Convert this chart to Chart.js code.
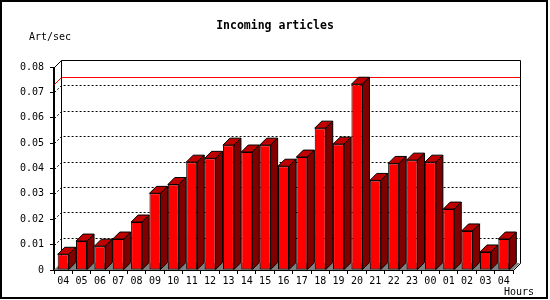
<!DOCTYPE html>
<html>
<head>
<meta charset="utf-8">
<script src="https://cdn.jsdelivr.net/npm/chart.js@4.4.1/dist/chart.umd.min.js"></script>
<style>
  html, body { margin: 0; padding: 0; background: #ffffff; }
  #c { display: block; }
</style>
</head>
<body>
<canvas id="c" width="550" height="300"></canvas>
<script>
// ---- Data ----
const hours = ['04','05','06','07','08','09','10','11','12','13','14','15','16','17','18','19','20','21','22','23','00','01','02','03','04'];
const artPerSec = [0.0062,0.0114,0.0094,0.0122,0.0189,0.0302,0.0337,0.0425,0.0440,0.0492,0.0465,0.0492,0.0409,0.0445,0.0559,0.0496,0.0732,0.0353,0.0420,0.0433,0.0425,0.0240,0.0154,0.0071,0.0122];
const yTickValues = [0,0.01,0.02,0.03,0.04,0.05,0.06,0.07,0.08];
const chartTitle = 'Incoming articles';
const yUnit = 'Art/sec';
const xUnit = 'Hours';

const DEPTH = 7;
const MONO = '"DejaVu Sans Mono", "Liberation Mono", monospace';

function poly(ctx, pts) {
  ctx.beginPath();
  ctx.moveTo(pts[0][0], pts[0][1]);
  for (let i = 1; i < pts.length; i++) ctx.lineTo(pts[i][0], pts[i][1]);
  ctx.closePath();
}

const threeD = {
  id: 'threeD',
  beforeDraw(chart) {
    const ctx = chart.ctx;
    ctx.save();
    ctx.fillStyle = '#ffffff';
    ctx.fillRect(0, 0, chart.width, chart.height);
    ctx.restore();
  },
  beforeDatasetsDraw(chart) {
    const ctx = chart.ctx;
    const { left, right, top, bottom } = chart.chartArea;
    const y = chart.scales.y;
    const L = Math.round(left) + 0.5, R = Math.round(right) + 0.5;
    const T = Math.round(top) + 0.5, B = Math.round(bottom) + 0.5;
    ctx.save();
    // floor
    ctx.fillStyle = '#808080';
    poly(ctx, [[left, bottom], [right, bottom], [right + DEPTH, bottom - DEPTH], [left + DEPTH, bottom - DEPTH]]);
    ctx.fill();
    // dotted grid lines on the back wall
    ctx.strokeStyle = '#000000';
    ctx.lineWidth = 1;
    ctx.setLineDash([2, 2]);
    yTickValues.forEach(v => {
      if (v <= y.min || v >= y.max) return;
      const py = Math.round(y.getPixelForValue(v)) + 0.5;
      ctx.beginPath();
      ctx.moveTo(L, py);
      ctx.lineTo(L + DEPTH, py - DEPTH);
      ctx.lineTo(R + DEPTH, py - DEPTH);
      ctx.stroke();
    });
    ctx.setLineDash([]);
    // max value line (red)
    const maxV = Math.max(...artPerSec);
    const pm = Math.round(y.getPixelForValue(maxV)) + 0.5;
    ctx.strokeStyle = '#ff0000';
    ctx.beginPath();
    ctx.moveTo(L, pm);
    ctx.lineTo(L + DEPTH, pm - DEPTH);
    ctx.lineTo(R + DEPTH, pm - DEPTH);
    ctx.stroke();
    // back wall frame
    ctx.strokeStyle = '#000000';
    ctx.beginPath();
    ctx.moveTo(L, T);
    ctx.lineTo(L + DEPTH, T - DEPTH);
    ctx.lineTo(R + DEPTH, T - DEPTH);
    ctx.lineTo(R + DEPTH, B - DEPTH);
    ctx.lineTo(R, B);
    ctx.moveTo(L + DEPTH, T - DEPTH);
    ctx.lineTo(L + DEPTH, B - DEPTH);
    ctx.stroke();
    ctx.restore();
  },
  afterDatasetsDraw(chart) {
    const ctx = chart.ctx;
    const meta = chart.getDatasetMeta(0);
    ctx.save();
    ctx.lineWidth = 1;
    ctx.strokeStyle = '#000000';
    meta.data.forEach(bar => {
      const { x, y, base, width } = bar.getProps(['x', 'y', 'base', 'width'], true);
      const l = x - width / 2, r = x + width / 2;
      // top face
      ctx.fillStyle = '#c00000';
      poly(ctx, [[l, y], [l + DEPTH, y - DEPTH], [r + DEPTH, y - DEPTH], [r, y]]);
      ctx.fill();
      ctx.stroke();
      // side face
      ctx.fillStyle = '#800000';
      poly(ctx, [[r, y], [r + DEPTH, y - DEPTH], [r + DEPTH, base - DEPTH], [r, base]]);
      ctx.fill();
      ctx.stroke();
    });
    // front axes redrawn on top
    const { left, right, bottom, top } = chart.chartArea;
    ctx.beginPath();
    ctx.moveTo(Math.round(left) - 0.5, top);
    ctx.lineTo(Math.round(left) - 0.5, bottom + 0.5);
    ctx.lineTo(right, bottom + 0.5);
    ctx.stroke();
    ctx.restore();
  },
  afterDraw(chart) {
    const ctx = chart.ctx;
    ctx.save();
    ctx.fillStyle = '#000000';
    ctx.font = '10px ' + MONO;
    ctx.textBaseline = 'middle';
    ctx.textAlign = 'left';
    ctx.fillText(yUnit, 29, 37.5);
    ctx.fillText(xUnit, 504, 292.5);
    // outer frame
    ctx.strokeStyle = '#000000';
    ctx.lineWidth = 2;
    ctx.strokeRect(1, 1, 546, 297);
    ctx.restore();
  }
};

new Chart(document.getElementById('c'), {
  type: 'bar',
  data: {
    labels: hours,
    datasets: [{
      data: artPerSec,
      backgroundColor: '#ff0000',
      borderColor: '#000000',
      borderWidth: 1,
      borderSkipped: false,
      barPercentage: 0.6,
      categoryPercentage: 1.0,
      inflateAmount: 0,
      yAxisID: 'y'
    }]
  },
  options: {
    responsive: false,
    animation: false,
    devicePixelRatio: 1,
    layout: { padding: 0 },
    plugins: {
      legend: { display: false },
      tooltip: { enabled: false },
      title: {
        display: true,
        text: chartTitle,
        color: '#000000',
        font: { family: MONO, size: 11.5, weight: 'bold', lineHeight: 1.2 },
        padding: { top: 19.6, bottom: 33.6 }
      }
    },
    scales: {
      x: {
        type: 'category',
        offset: true,
        grid: { display: true, offset: true, drawOnChartArea: false, drawTicks: true, tickLength: 4, color: '#000000' },
        border: { display: true, color: '#000000' },
        ticks: { color: '#000000', font: { family: MONO, size: 10 }, padding: 1, maxRotation: 0, autoSkip: false },
        afterFit(scale) { scale.height = 30; }
      },
      y: {
        type: 'linear',
        position: 'left',
        min: 0,
        max: 0.08,
        afterBuildTicks(scale) { scale.ticks = yTickValues.map(v => ({ value: v })); },
        grid: { display: true, drawOnChartArea: false, drawTicks: true, tickLength: 4, color: '#000000' },
        border: { display: true, color: '#000000' },
        ticks: {
          color: '#000000',
          font: { family: MONO, size: 10 },
          padding: 6,
          callback: v => (v === 0 ? '0' : v.toFixed(2))
        },
        afterFit(scale) { scale.width = 54; }
      },
      yRight: {
        type: 'linear',
        position: 'right',
        display: true,
        grid: { display: false },
        border: { display: false },
        ticks: { display: false },
        afterFit(scale) { scale.width = 37; }
      }
    }
  },
  plugins: [threeD]
});
</script>
</body>
</html>
